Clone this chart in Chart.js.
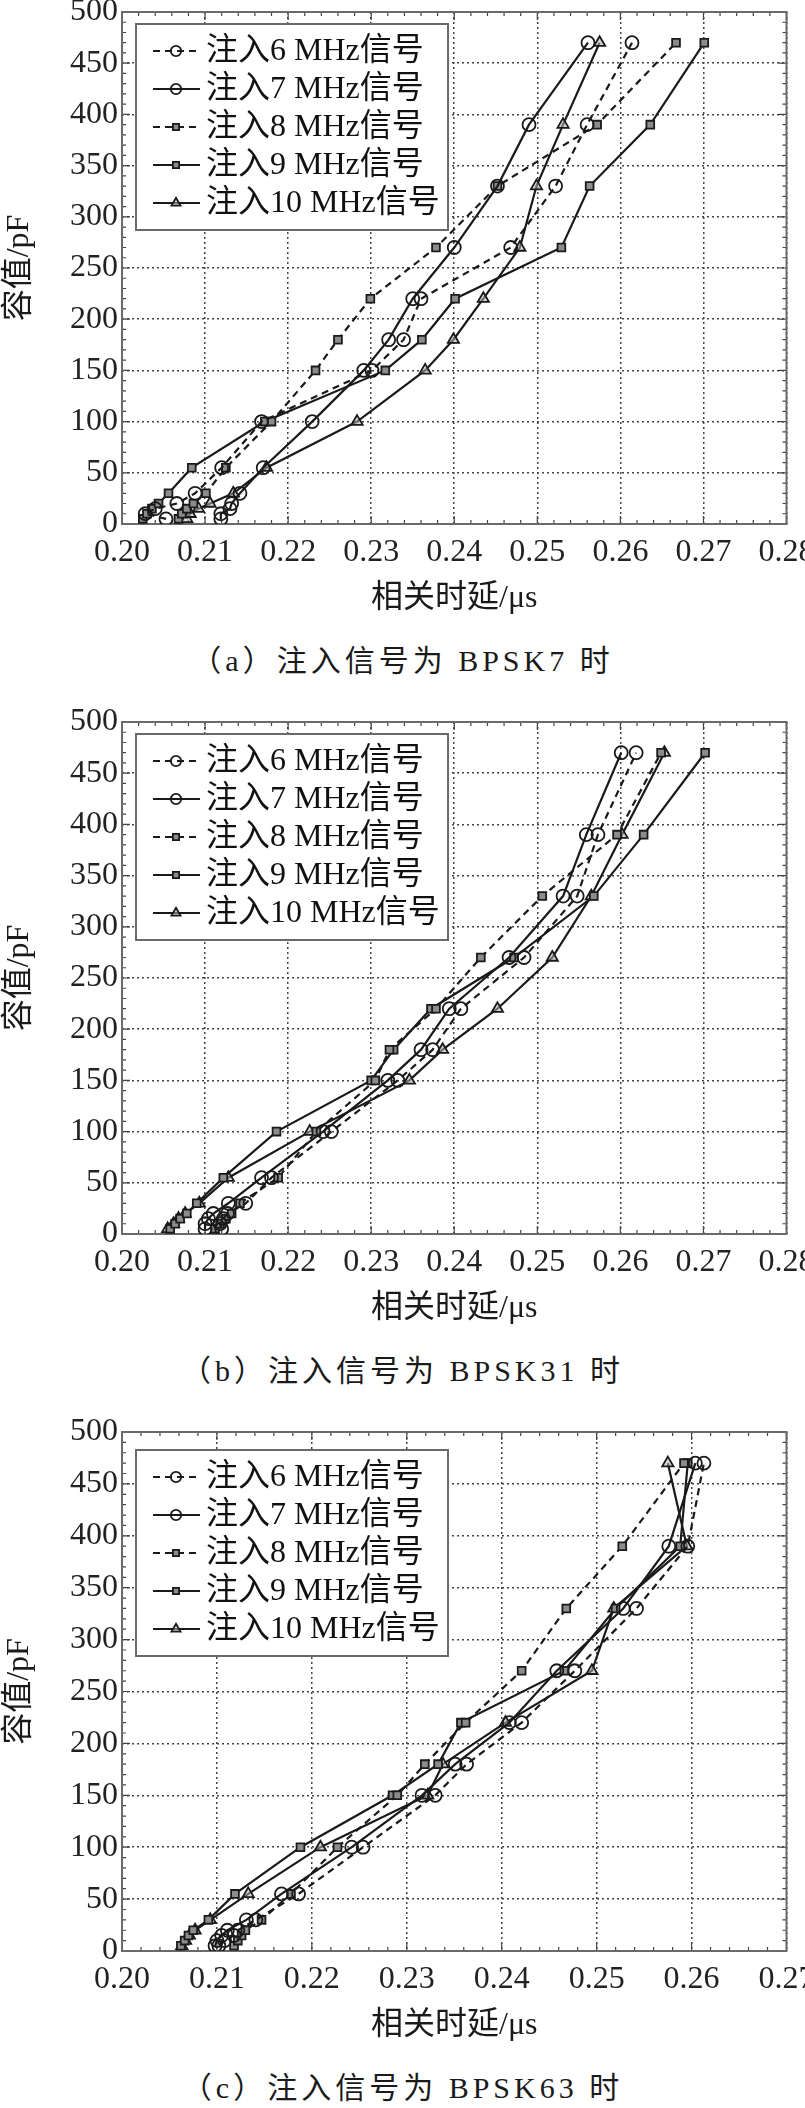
<!DOCTYPE html>
<html>
<head>
<meta charset="utf-8">
<script src="https://cdn.jsdelivr.net/npm/chart.js@4.4.0/dist/chart.umd.min.js"></script>
<style>
  html, body { margin: 0; padding: 0; background: #fff; }
  body { width: 805px; height: 2108px; position: relative; overflow: hidden; }
  canvas.panel { position: absolute; left: 0; }
  .caption {
    position: absolute; left: 0; width: 805px; text-align: center;
    font: 30px "Liberation Serif", "Noto Sans CJK SC", serif;
    color: #1a1a1a; letter-spacing: 4px; line-height: 36px;
  }
</style>
</head>
<body>
<canvas class="panel" id="chartA"></canvas>
<canvas class="panel" id="chartB"></canvas>
<canvas class="panel" id="chartC"></canvas>
<div class="caption" id="capA"></div>
<div class="caption" id="capB"></div>
<div class="caption" id="capC"></div>
<script>
// capacitance steps (pF), shared by every series
const capacitance = [5, 10, 15, 20, 30, 55, 100, 150, 180, 220, 270, 330, 390, 470];
const seriesLabels = ['注入6 MHz信号', '注入7 MHz信号', '注入8 MHz信号', '注入9 MHz信号', '注入10 MHz信号'];
const yTicks = [0, 50, 100, 150, 200, 250, 300, 350, 400, 450, 500];
const xTicksAB = [0.20, 0.21, 0.22, 0.23, 0.24, 0.25, 0.26, 0.27, 0.28];
const xTicksC = [0.20, 0.21, 0.22, 0.23, 0.24, 0.25, 0.26, 0.27];
const captions = ['（a）注入信号为 BPSK7 时', '（b）注入信号为 BPSK31 时', '（c）注入信号为 BPSK63 时'];

// (a) BPSK7 — correlation delay (µs)
const bpsk7_6 = [0.2053, 0.2028, 0.2040, 0.2066, 0.2088, 0.2120, 0.2168, 0.2301, 0.2339, 0.2360, 0.2468, 0.2522, 0.2560, 0.2614];
const bpsk7_7 = [0.2119, 0.2119, 0.2130, 0.2132, 0.2142, 0.2170, 0.2229, 0.2291, 0.2321, 0.2350, 0.2400, 0.2452, 0.2490, 0.2561];
const bpsk7_8 = [0.2068, 0.2072, 0.2078, 0.2086, 0.2101, 0.2125, 0.2180, 0.2233, 0.2260, 0.2299, 0.2378, 0.2452, 0.2572, 0.2667];
const bpsk7_9 = [0.2025, 0.2030, 0.2036, 0.2044, 0.2056, 0.2084, 0.2172, 0.2317, 0.2361, 0.2401, 0.2529, 0.2563, 0.2636, 0.2701];
const bpsk7_10 = [0.2078, 0.2082, 0.2092, 0.2106, 0.2134, 0.2174, 0.2283, 0.2365, 0.2399, 0.2435, 0.2479, 0.2499, 0.2531, 0.2575];

// (b) BPSK31
const bpsk31_6 = [0.2120, 0.2118, 0.2122, 0.2127, 0.2149, 0.2180, 0.2252, 0.2332, 0.2374, 0.2408, 0.2484, 0.2548, 0.2573, 0.2619];
const bpsk31_7 = [0.2100, 0.2100, 0.2104, 0.2110, 0.2128, 0.2168, 0.2242, 0.2320, 0.2360, 0.2394, 0.2466, 0.2531, 0.2559, 0.2601];
const bpsk31_8 = [0.2112, 0.2118, 0.2125, 0.2132, 0.2142, 0.2188, 0.2234, 0.2305, 0.2322, 0.2378, 0.2432, 0.2506, 0.2596, 0.2649];
const bpsk31_9 = [0.2058, 0.2064, 0.2070, 0.2078, 0.2090, 0.2122, 0.2186, 0.2300, 0.2327, 0.2372, 0.2472, 0.2568, 0.2628, 0.2702];
const bpsk31_10 = [0.2055, 0.2062, 0.2068, 0.2076, 0.2093, 0.2128, 0.2226, 0.2346, 0.2386, 0.2452, 0.2518, 0.2565, 0.2602, 0.2653];

// (c) BPSK63
const bpsk63_6 = [0.2102, 0.2108, 0.2118, 0.2122, 0.2141, 0.2186, 0.2254, 0.2330, 0.2363, 0.2421, 0.2477, 0.2542, 0.2596, 0.2613];
const bpsk63_7 = [0.2098, 0.2100, 0.2105, 0.2111, 0.2131, 0.2168, 0.2242, 0.2316, 0.2351, 0.2408, 0.2458, 0.2528, 0.2576, 0.2604];
const bpsk63_8 = [0.2118, 0.2122, 0.2126, 0.2130, 0.2147, 0.2178, 0.2227, 0.2290, 0.2319, 0.2362, 0.2421, 0.2468, 0.2527, 0.2592];
const bpsk63_9 = [0.2062, 0.2066, 0.2070, 0.2075, 0.2091, 0.2119, 0.2188, 0.2285, 0.2333, 0.2357, 0.2466, 0.2520, 0.2588, 0.2596];
const bpsk63_10 = [0.2063, 0.2067, 0.2071, 0.2077, 0.2093, 0.2133, 0.2209, 0.2322, 0.2338, 0.2404, 0.2495, 0.2518, 0.2595, 0.2575];

const LINE = '#1a1a1a';
const SERIF = '"Liberation Serif", "Noto Sans CJK SC", serif';

// look of each series: dashed/solid + marker
const seriesStyles = [
  { dash: [7, 5], pointStyle: 'circle', radius: 6.5, fill: 'rgba(0,0,0,0)' },
  { dash: [], pointStyle: 'circle', radius: 6.5, fill: 'rgba(0,0,0,0)' },
  { dash: [7, 5], pointStyle: 'rect', radius: 5.5, fill: '#8c8c8c' },
  { dash: [], pointStyle: 'rect', radius: 5.5, fill: '#8c8c8c' },
  { dash: [], pointStyle: 'triangle', radius: 6.5, fill: 'rgba(180,180,180,0.55)' }
];

function makeDatasets(delays) {
  return delays.map((row, i) => {
    const st = seriesStyles[i];
    return {
      label: seriesLabels[i],
      data: row.map((x, k) => ({ x: x, y: capacitance[k] })),
      showLine: true,
      borderColor: LINE,
      borderWidth: 2.2,
      borderDash: st.dash,
      pointStyle: st.pointStyle,
      pointRadius: st.radius,
      pointBorderWidth: 1.8,
      pointBorderColor: LINE,
      pointBackgroundColor: st.fill,
      tension: 0
    };
  });
}

// frame + inward major/minor ticks on all four sides
const framePlugin = {
  id: 'frameTicks',
  beforeDatasetsDraw(chart) {
    const { ctx, chartArea: a, scales } = chart;
    const xs = scales.x, ys = scales.y;
    ctx.save();
    ctx.strokeStyle = '#444';
    ctx.lineWidth = 1.2;
    ctx.beginPath();
    const nx = Math.round((xs.max - xs.min) / 0.002);
    for (let k = 0; k <= nx; k++) {
      const px = xs.getPixelForValue(xs.min + k * 0.002);
      const len = k % 5 === 0 ? 8 : 4;
      ctx.moveTo(px, a.bottom); ctx.lineTo(px, a.bottom - len);
      ctx.moveTo(px, a.top); ctx.lineTo(px, a.top + len);
    }
    const ny = Math.round((ys.max - ys.min) / 10);
    for (let k = 0; k <= ny; k++) {
      const py = ys.getPixelForValue(ys.min + k * 10);
      const len = k % 5 === 0 ? 8 : 4;
      ctx.moveTo(a.left, py); ctx.lineTo(a.left + len, py);
      ctx.moveTo(a.right, py); ctx.lineTo(a.right - len, py);
    }
    ctx.stroke();
    ctx.strokeStyle = '#6a6a6a';
    ctx.lineWidth = 2;
    ctx.strokeRect(a.left, a.top, a.right - a.left, a.bottom - a.top);
    ctx.restore();
  }
};

// legend box drawn inside the plot, with line sample + marker
const legendPlugin = {
  id: 'boxLegend',
  afterDatasetsDraw(chart, args, opts) {
    const { ctx, chartArea: a } = chart;
    const left = a.left + 14, top = a.top + opts.offset;
    ctx.save();
    ctx.fillStyle = '#fff';
    ctx.fillRect(left, top, 312, 206);
    ctx.strokeStyle = '#6a6a6a';
    ctx.lineWidth = 2;
    ctx.strokeRect(left, top, 312, 206);
    chart.data.datasets.forEach((ds, i) => {
      const y = top + 27 + i * 38;
      ctx.strokeStyle = LINE;
      ctx.lineWidth = 2;
      ctx.setLineDash(ds.borderDash);
      ctx.beginPath();
      ctx.moveTo(left + 17, y);
      ctx.lineTo(left + 64, y);
      ctx.stroke();
      ctx.setLineDash([]);
      ctx.fillStyle = ds.pointBackgroundColor;
      ctx.lineWidth = ds.pointBorderWidth;
      Chart.helpers.drawPoint(ctx, {
        pointStyle: ds.pointStyle, radius: ds.pointRadius * 0.8,
        borderWidth: ds.pointBorderWidth, rotation: 0
      }, left + 40, y);
      ctx.fillStyle = '#111';
      ctx.font = '32px ' + SERIF;
      ctx.textBaseline = 'middle';
      ctx.fillText(ds.label, left + 70, y + 1);
    });
    ctx.restore();
  }
};

const panels = [
  { canvas: 'chartA', cap: 'capA', plotTop: 12, plotH: 512, xTicks: xTicksAB, legendOffset: 12,
    delays: [bpsk7_6, bpsk7_7, bpsk7_8, bpsk7_9, bpsk7_10] },
  { canvas: 'chartB', cap: 'capB', plotTop: 722, plotH: 512, xTicks: xTicksAB, legendOffset: 12,
    delays: [bpsk31_6, bpsk31_7, bpsk31_8, bpsk31_9, bpsk31_10] },
  { canvas: 'chartC', cap: 'capC', plotTop: 1432, plotH: 519, xTicks: xTicksC, legendOffset: 18,
    delays: [bpsk63_6, bpsk63_7, bpsk63_8, bpsk63_9, bpsk63_10] }
];

const PAD_TOP = 30, X_AXIS_H = 110, Y_AXIS_W = 122;

panels.forEach((p, idx) => {
  const cv = document.getElementById(p.canvas);
  const h = PAD_TOP + p.plotH + X_AXIS_H;
  cv.width = 805; cv.height = h;
  cv.style.width = '805px'; cv.style.height = h + 'px';
  cv.style.top = (p.plotTop - PAD_TOP) + 'px';

  const cap = document.getElementById(p.cap);
  cap.textContent = captions[idx];
  cap.style.top = (p.plotTop + p.plotH + 137 - 18) + 'px';

  const xt = p.xTicks;
  new Chart(cv, {
    type: 'scatter',
    data: { datasets: makeDatasets(p.delays) },
    options: {
      responsive: false,
      animation: false,
      devicePixelRatio: 1,
      layout: { padding: { top: PAD_TOP, right: 18.5, bottom: 0, left: 0 } },
      plugins: {
        legend: { display: false },
        tooltip: { enabled: false },
        boxLegend: { offset: p.legendOffset }
      },
      scales: {
        x: {
          type: 'linear',
          min: xt[0],
          max: xt[xt.length - 1],
          afterBuildTicks(scale) { scale.ticks = xt.map(v => ({ value: v })); },
          afterFit(scale) { scale.height = X_AXIS_H; scale.paddingLeft = 0; scale.paddingRight = 0; },
          grid: { color: '#444', lineWidth: 1.5, drawTicks: false },
          border: { display: false, dash: [2, 3] },
          ticks: {
            padding: 9,
            color: '#222',
            font: { family: SERIF, size: 32 },
            callback: v => v.toFixed(2)
          },
          title: {
            display: true,
            text: '相关时延/μs',
            color: '#1a1a1a',
            font: { family: SERIF, size: 32 },
            padding: { top: 0, bottom: 16 }
          }
        },
        y: {
          min: 0,
          max: 500,
          afterBuildTicks(scale) { scale.ticks = yTicks.map(v => ({ value: v })); },
          afterFit(scale) { scale.width = Y_AXIS_W; scale.paddingTop = 0; scale.paddingBottom = 0; },
          grid: { color: '#444', lineWidth: 1.5, drawTicks: false },
          border: { display: false, dash: [2, 3] },
          ticks: {
            padding: 4,
            color: '#222',
            font: { family: SERIF, size: 32 }
          },
          title: {
            display: true,
            text: '容值/pF',
            color: '#1a1a1a',
            font: { family: SERIF, size: 32 },
            padding: { top: 0, bottom: 0 }
          }
        }
      }
    },
    plugins: [framePlugin, legendPlugin]
  });
});
</script>
</body>
</html>
